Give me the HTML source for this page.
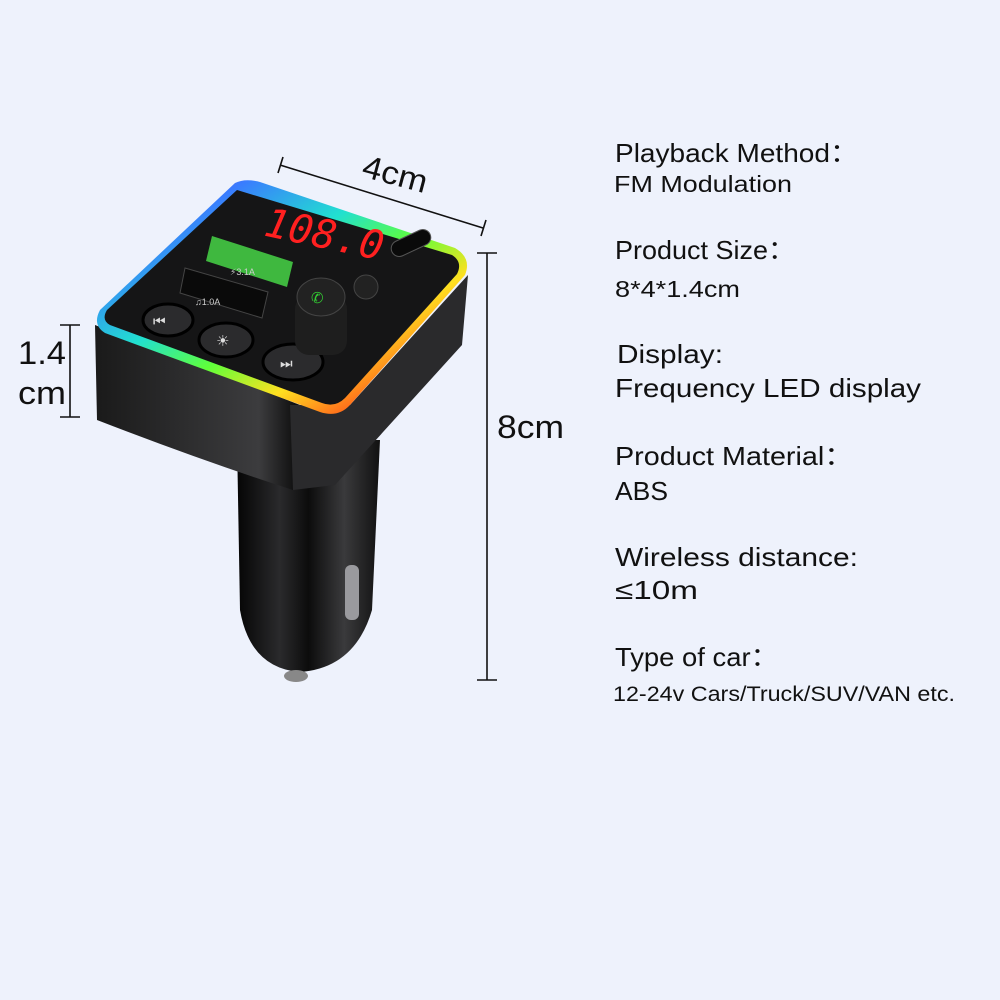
<!DOCTYPE html>
<html><head><meta charset="utf-8"><style>
html,body{margin:0;padding:0;background:#eef2fc;}
svg{display:block}
text{font-family:"Liberation Sans","DejaVu Sans",sans-serif;fill:#111;}
</style></head><body>
<svg width="1000" height="1000" viewBox="0 0 1000 1000" xmlns="http://www.w3.org/2000/svg">
<defs>
<linearGradient id="plug" x1="0" x2="1" y1="0" y2="0">
<stop offset="0" stop-color="#050505"/><stop offset="0.3" stop-color="#2a2a2c"/><stop offset="0.5" stop-color="#0c0c0c"/><stop offset="0.75" stop-color="#3a3a3c"/><stop offset="1" stop-color="#111"/>
</linearGradient>
<linearGradient id="front" x1="0" x2="1" y1="0" y2="0">
<stop offset="0" stop-color="#1a1a1a"/><stop offset="0.8" stop-color="#3c3c3e"/><stop offset="1" stop-color="#0a0a0a"/>
</linearGradient>
<linearGradient id="rgb" x1="0" x2="1" y1="0" y2="1">
<stop offset="0" stop-color="#ff2a7a"/><stop offset="0.2" stop-color="#3a7bff"/><stop offset="0.4" stop-color="#21e0d0"/><stop offset="0.55" stop-color="#5fff3a"/><stop offset="0.7" stop-color="#ffe020"/><stop offset="0.85" stop-color="#ff5a1a"/><stop offset="1" stop-color="#ff2a7a"/>
</linearGradient>
</defs>
<rect width="1000" height="1000" fill="#eef2fc"/>

<!-- plug -->
<path d="M237,440 L380,440 L372,610 Q355,668 300,672 Q250,668 240,610 Z" fill="url(#plug)"/>
<rect x="345" y="565" width="14" height="55" rx="6" fill="#9a9a9e"/>
<ellipse cx="296" cy="676" rx="12" ry="6" fill="#888"/>

<!-- body side faces -->
<path d="M95,325 L300,405 L293,490 Q200,460 97,420 Z" fill="url(#front)"/>
<path d="M290,405 L350,405 L468,275 L462,345 L335,485 L293,490 Z" fill="#2a2a2c"/>
<!-- top face -->
<path d="M235,183 Q245,178 260,182 L455,248 Q472,258 465,275 L350,405 Q338,418 320,412 L105,333 Q92,325 100,310 Z" fill="url(#rgb)"/>
<path d="M237,190 L452,255 Q463,262 457,274 L345,398 Q335,408 322,403 L110,325 Q101,320 107,310 Z" fill="#151516"/>
<!-- display -->
<text x="265" y="247" transform="rotate(12 320 230)" style="font-size:40px;fill:#ff2020;font-style:italic;font-family:'DejaVu Sans Mono',monospace">108.0</text>
<!-- usb ports -->
<path d="M212,236 L293,262 L287,287 L206,261 Z" fill="#3fb83f"/>
<path d="M185,268 L268,292 L262,318 L180,293 Z" fill="#0a0a0a" stroke="#444"/>
<text x="230" y="275" style="font-size:9px;fill:#ccc">⚡3.1A</text>
<text x="195" y="305" style="font-size:9px;fill:#ccc">♫1.0A</text>
<!-- type c -->
<rect x="390" y="235" width="42" height="16" rx="8" transform="rotate(-25 411 243)" fill="#0a0a0a" stroke="#555"/>
<!-- buttons -->
<ellipse cx="168" cy="320" rx="25" ry="16" fill="#2b2b2d" stroke="#000" stroke-width="3"/>
<text x="153" y="326" style="font-size:14px;fill:#ddd">⏮</text>
<ellipse cx="226" cy="340" rx="27" ry="17" fill="#2b2b2d" stroke="#000" stroke-width="3"/>
<text x="216" y="346" style="font-size:15px;fill:#ddd">☀</text>
<ellipse cx="293" cy="362" rx="30" ry="18" fill="#2b2b2d" stroke="#000" stroke-width="3"/>
<text x="280" y="368" style="font-size:14px;fill:#ddd">⏭</text>
<!-- knob -->
<rect x="295" y="295" width="52" height="60" rx="14" fill="#1e1e1e"/>
<ellipse cx="321" cy="297" rx="24" ry="19" fill="#222" stroke="#444"/>
<text x="311" y="303" style="font-size:15px;fill:#3c3">✆</text>
<circle cx="366" cy="287" r="12" fill="#222" stroke="#444"/>

<!-- dimension lines -->
<g stroke="#111" stroke-width="1.6" fill="none">
<line x1="280" y1="165" x2="483" y2="228"/>
<line x1="283" y1="157" x2="278" y2="173"/>
<line x1="486" y1="220" x2="481" y2="236"/>
<line x1="487" y1="253" x2="487" y2="680"/>
<line x1="477" y1="253" x2="497" y2="253"/>
<line x1="477" y1="680" x2="497" y2="680"/>
<line x1="70" y1="325" x2="70" y2="417"/>
<line x1="60" y1="325" x2="80" y2="325"/>
<line x1="60" y1="417" x2="80" y2="417"/>
</g>
<g lengthAdjust="spacingAndGlyphs">
<text x="362" y="185" transform="rotate(15 395 175)" style="font-size:32px" textLength="66" lengthAdjust="spacingAndGlyphs">4cm</text>
<text x="497" y="438" style="font-size:32px" textLength="67" lengthAdjust="spacingAndGlyphs">8cm</text>
<text x="18" y="364" style="font-size:32px" textLength="48" lengthAdjust="spacingAndGlyphs">1.4</text>
<text x="18" y="404" style="font-size:32px" textLength="48" lengthAdjust="spacingAndGlyphs">cm</text>
</g>

<!-- right specs -->
<g style="font-size:26px">
<text x="615" y="162" textLength="243" lengthAdjust="spacingAndGlyphs">Playback Method：</text>
<text x="614" y="192" style="font-size:23px" textLength="178" lengthAdjust="spacingAndGlyphs">FM Modulation</text>
<text x="615" y="259" textLength="180" lengthAdjust="spacingAndGlyphs">Product Size：</text>
<text x="615" y="297" style="font-size:23px" textLength="125" lengthAdjust="spacingAndGlyphs">8*4*1.4cm</text>
<text x="617" y="363" textLength="106" lengthAdjust="spacingAndGlyphs">Display:</text>
<text x="615" y="397" textLength="306" lengthAdjust="spacingAndGlyphs">Frequency LED display</text>
<text x="615" y="465" textLength="238" lengthAdjust="spacingAndGlyphs">Product Material：</text>
<text x="615" y="500" textLength="53" lengthAdjust="spacingAndGlyphs">ABS</text>
<text x="615" y="566" textLength="243" lengthAdjust="spacingAndGlyphs">Wireless distance:</text>
<text x="615" y="599" textLength="83" lengthAdjust="spacingAndGlyphs">≤10m</text>
<text x="615" y="666" textLength="163" lengthAdjust="spacingAndGlyphs">Type of car：</text>
<text x="613" y="701" style="font-size:21px" textLength="342" lengthAdjust="spacingAndGlyphs">12-24v Cars/Truck/SUV/VAN etc.</text>
</g>
</svg>
</body></html>
